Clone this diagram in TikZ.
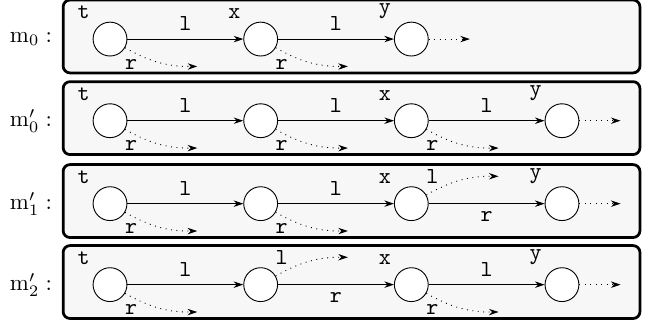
\documentclass[tikz,border=0pt]{standalone}
\usetikzlibrary{arrows.meta,positioning,backgrounds}

\begin{document}
\begin{tikzpicture}[
  font=\ttfamily,
  st/.style={draw, circle, fill=white, minimum size=5.2mm, inner sep=0pt},
  panel/.style={draw, very thick, rounded corners=3pt, fill=black!3},
  arrow/.style={-{Stealth[length=4.2pt, width=2.8pt]}},
  dotarrow/.style={arrow, dotted},
  node distance=17.8mm
]
\useasboundingbox (0,0) rectangle (10,-4.992);

% m_0
\node[st, label=above left:t] (t0) at (1.69,-0.6) {};
\node[st, right=of t0, label=above left:x] (x0) {};
\node[st, right=of x0, label=above left:y] (y0) {};
% m'_0
\node[st, below=7.2mm of t0, label=above left:t] (t1) {};
\node[st, right=of t1] (u1) {};
\node[st, right=of u1, label=above left:x] (x1) {};
\node[st, right=of x1, label=above left:y] (y1) {};
% m'_1
\node[st, below=7.4mm of t1, label=above left:t] (t2) {};
\node[st, right=of t2] (u2) {};
\node[st, right=of u2, label=above left:x] (x2) {};
\node[st, right=of x2, label=above left:y] (y2) {};
% m'_2
\node[st, below=7.1mm of t2, label=above left:t] (t3) {};
\node[st, right=of t3] (u3) {};
\node[st, right=of u3, label=above left:x] (x3) {};
\node[st, right=of x3, label=above left:y] (y3) {};

\node[left=5mm of t0] (m0) {$\mathrm{m}_0:$};
\node[left=5mm of t1] (m1) {$\mathrm{m}'_0:$};
\node[left=5mm of t2] (m2) {$\mathrm{m}'_1:$};
\node[left=5mm of t3] (m3) {$\mathrm{m}'_2:$};

\begin{scope}[on background layer]
\foreach \n in {t0,t1,t2,t3}
  \draw[panel] ([shift={(-0.72,0.6)}]\n.center) rectangle ([shift={(8.14,-0.52)}]\n.center);
\end{scope}

\draw[arrow] (t0) -- node[above]{l} (x0);
\draw[arrow] (x0) -- node[above]{l} (y0);
\draw[arrow] (t1) -- node[above]{l} (u1);
\draw[arrow] (u1) -- node[above]{l} (x1);
\draw[arrow] (x1) -- node[above]{l} (y1);
\draw[arrow] (t2) -- node[above]{l} (u2);
\draw[arrow] (u2) -- node[above]{l} (x2);
\draw[arrow] (x2) -- node[below]{r} (y2);
\draw[arrow] (t3) -- node[above]{l} (u3);
\draw[arrow] (u3) -- node[below]{r} (x3);
\draw[arrow] (x3) -- node[above]{l} (y3);

% dangling pointers
\foreach \n in {t0,x0,t1,u1,x1,t2,u2,t3,x3}{
  \coordinate (\n-r) at ([shift={(1.34,-0.42)}]\n.center);
  \draw[dotarrow] (\n.-30) to[bend right=15] node[below,pos=0.08]{r} (\n-r);
}
\foreach \n in {x2,u3}{
  \coordinate (\n-l) at ([shift={(1.34,0.42)}]\n.center);
  \draw[dotarrow] (\n.30) to[bend left=15] node[above,pos=0.08]{l} (\n-l);
}
\foreach \n in {y0,y1,y2,y3}{
  \coordinate (\n-e) at ([xshift=9mm]\n.center);
  \draw[dotarrow] (\n) -- (\n-e);
}
\end{tikzpicture}
\end{document}
